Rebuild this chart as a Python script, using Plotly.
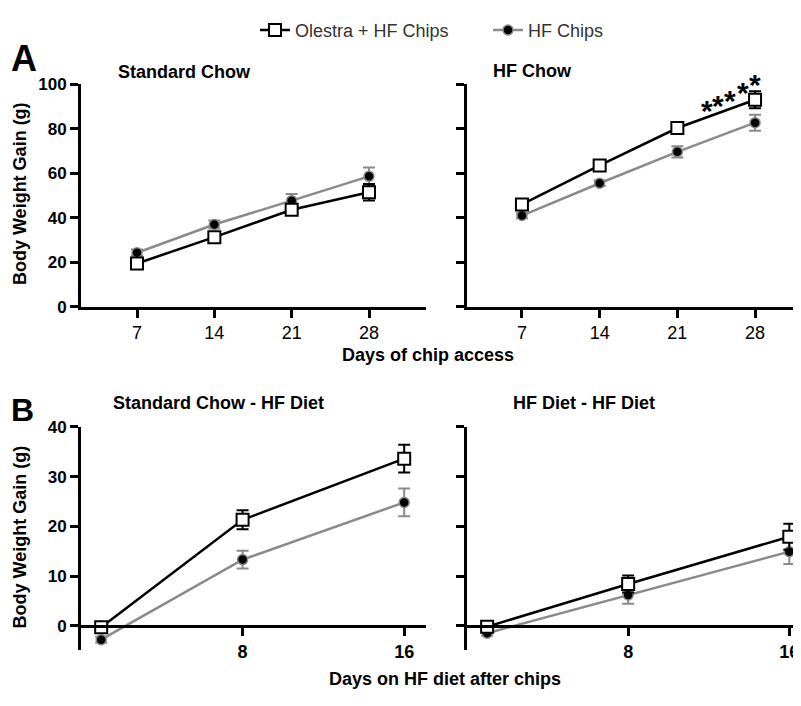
import plotly.graph_objects as go

# ---------------- data ----------------
days_A = [7, 14, 21, 28]
std_olestra = [19.5, 31.3, 43.6, 51.5]
std_olestra_err = [1.5, 1.8, 2.2, 3.7]
std_hf = [24.3, 37.0, 47.7, 58.6]
std_hf_err = [1.5, 1.8, 3.0, 4.0]
hfc_olestra = [46.0, 63.5, 80.3, 93.0]
hfc_olestra_err = [1.5, 1.5, 2.0, 3.8]
hfc_hf = [41.0, 55.5, 69.6, 82.7]
hfc_hf_err = [1.2, 1.2, 2.5, 3.6]

days_B = [1, 8, 16]
sc_olestra = [-0.3, 21.3, 33.6]
sc_olestra_err = [0.8, 1.9, 2.8]
sc_hf = [-2.8, 13.3, 24.8]
sc_hf_err = [0.6, 1.8, 2.8]
hd_olestra = [-0.2, 8.4, 17.9]
hd_olestra_err = [0.6, 1.7, 2.6]
hd_hf = [-1.5, 6.2, 14.9]
hd_hf_err = [0.5, 1.8, 2.5]

ticks_A_x = [7, 14, 21, 28]
ticks_A_y = [0, 20, 40, 60, 80, 100]
ticks_B_x = [8, 16]
ticks_B_y = [0, 10, 20, 30, 40]

# page body has an 8px margin: the figure starts at (8, 8) in the window
OFF = 8
W, H = 801 - OFF, 706 - OFF
FONT = "Liberation Sans"
GRAY = "#8a8a8a"

def px(x):
    return (x - OFF) / W

def py(y):
    return 1 - (y - OFF) / H

fig = go.Figure()

panels = [
    ("x", "y", days_A, std_olestra, std_olestra_err, std_hf, std_hf_err, True),
    ("x2", "y2", days_A, hfc_olestra, hfc_olestra_err, hfc_hf, hfc_hf_err, False),
    ("x3", "y3", days_B, sc_olestra, sc_olestra_err, sc_hf, sc_hf_err, False),
    ("x4", "y4", days_B, hd_olestra, hd_olestra_err, hd_hf, hd_hf_err, False),
]

for xa, ya, xs, ol, ole, hf, hfe, show in panels:
    fig.add_trace(go.Scatter(
        x=xs, y=hf, xaxis=xa, yaxis=ya, mode="lines+markers",
        name="HF Chips", showlegend=show, legendrank=2,
        line=dict(color=GRAY, width=2.5),
        marker=dict(symbol="circle", size=10, color="black",
                    line=dict(color=GRAY, width=1.5)),
        error_y=dict(type="data", array=hfe, color=GRAY, thickness=2, width=6),
        cliponaxis=False,
    ))
    fig.add_trace(go.Scatter(
        x=xs, y=ol, xaxis=xa, yaxis=ya, mode="lines+markers",
        name="Olestra + HF Chips", showlegend=show, legendrank=1,
        line=dict(color="black", width=2.5),
        marker=dict(symbol="square", size=12, color="white",
                    line=dict(color="black", width=2)),
        error_y=dict(type="data", array=ole, color="black", thickness=2, width=6),
        cliponaxis=False,
    ))

axis_common = dict(showline=True, linewidth=3, linecolor="black",
                   ticks="outside", ticklen=8, tickwidth=3, tickcolor="black",
                   showgrid=False, zeroline=False)

A_dom = [py(306), py(77)]
B_dom = [py(658.3), py(429.3)]
L_dom = [px(81), px(426)]
R_dom = [px(467), 1.0]

xt_A = dict(family=FONT, size=18, color="black")
yt = dict(family=FONT, size=17, color="black", weight=700)
xt_B = dict(family=FONT, size=18, color="black", weight=700)

fig.update_layout(
    width=W, height=H, margin=dict(l=0, r=0, t=0, b=0),
    paper_bgcolor="white", plot_bgcolor="white",
    xaxis=dict(domain=L_dom, range=[1.93, 33.16], tickvals=ticks_A_x,
               anchor="y", tickfont=xt_A, **axis_common),
    yaxis=dict(domain=A_dom, range=[0, 100], tickvals=ticks_A_y,
               anchor="x", tickfont=yt, **axis_common),
    xaxis2=dict(domain=R_dom, range=[2.05, 32.14], tickvals=ticks_A_x,
                anchor="y2", tickfont=xt_A, **axis_common),
    yaxis2=dict(domain=A_dom, range=[0, 100], tickvals=ticks_A_y,
                anchor="x2", showticklabels=False, **axis_common),
    xaxis3=dict(domain=L_dom, range=[0, 17.08], tickvals=ticks_B_x,
                anchor="free", position=py(634), tickfont=xt_B, **axis_common),
    yaxis3=dict(domain=B_dom, range=[-4.8, 40], tickvals=ticks_B_y,
                anchor="x3", tickfont=yt, **axis_common),
    xaxis4=dict(domain=R_dom, range=[0, 16.58], tickvals=ticks_B_x,
                anchor="free", position=py(634), tickfont=xt_B, **axis_common),
    yaxis4=dict(domain=B_dom, range=[-4.8, 40], tickvals=ticks_B_y,
                anchor="x4", showticklabels=False, **axis_common),
    legend=dict(orientation="h", x=px(255), xanchor="left", y=py(21.7),
                yanchor="middle", font=dict(family=FONT, size=18, color="#333333"),
                bgcolor="rgba(0,0,0,0)", entrywidth=188, entrywidthmode="pixels"),
)

ann = []

def text(t, x, y, size, xanchor="center", angle=0, color="black"):
    ann.append(dict(text=t, x=px(x), y=py(y), xref="paper", yref="paper",
                    xanchor=xanchor, yanchor="middle", showarrow=False,
                    textangle=angle, font=dict(family=FONT, size=size, color=color)))

text("<b>A</b>", 24, 51, 36)
text("<b>B</b>", 22, 412, 32)
text("<b>Standard Chow</b>", 116, 65, 18, xanchor="left")
text("<b>HF Chow</b>", 491, 63, 18, xanchor="left")
text("<b>Standard Chow - HF Diet</b>", 111, 405, 18, xanchor="left")
text("<b>HF Diet - HF Diet</b>", 511, 405, 18, xanchor="left")
text("<b>Body Weight Gain (g)</b>", 20, 190, 18, angle=-90)
text("<b>Body Weight Gain (g)</b>", 20, 543, 18, angle=-90)
text("<b>Days of chip access</b>", 428, 355, 18)
text("<b>Days on HF diet after chips</b>", 445, 689, 18)

stars = [(707, 97), (718, 92), (730, 87), (743, 79), (755, 70)]
for sx, sy in stars:
    text("<b>*</b>", sx, sy + 7, 30)

fig.update_layout(annotations=ann)

fig.write_html("out.html")
